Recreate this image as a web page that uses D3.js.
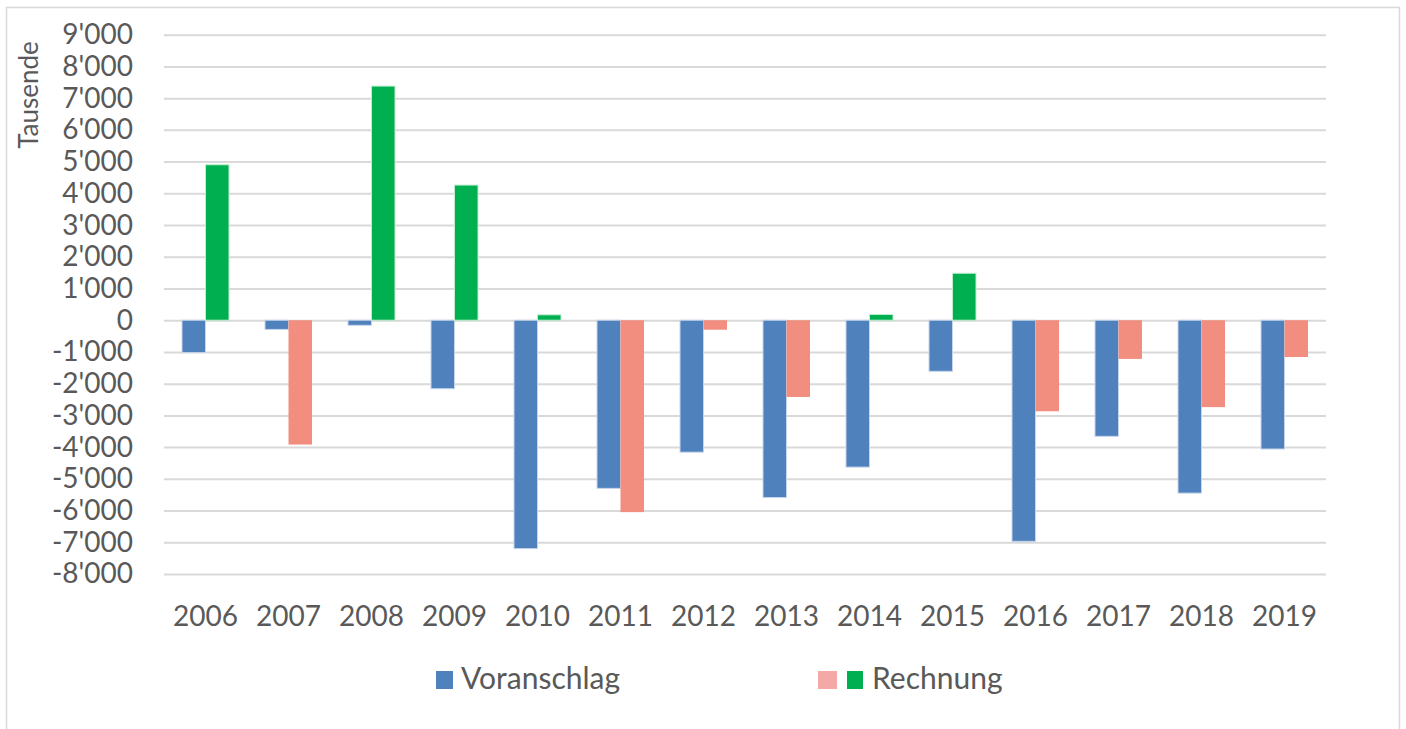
<!DOCTYPE html>
<html>
<head>
<meta charset="utf-8">
<script src="https://cdn.jsdelivr.net/npm/d3@7"></script>
<style>
  html, body { margin: 0; padding: 0; background: #fff; }
  svg { display: block; }
  text { font-family: Lato, "Open Sans", sans-serif; fill: #595959; }
</style>
</head>
<body>
<svg id="chart" width="1406" height="729"></svg>
<script>
const years = ["2006","2007","2008","2009","2010","2011","2012","2013","2014","2015","2016","2017","2018","2019"];
const voranschlag = [-1020, -290, -160, -2160, -7200, -5300, -4160, -5590, -4630, -1610, -6970, -3660, -5450, -4060];
const rechnung = [4900, -3920, 7380, 4260, 170, -6050, -300, -2420, 180, 1480, -2870, -1220, -2740, -1160];
const yTicks = [9000, 8000, 7000, 6000, 5000, 4000, 3000, 2000, 1000, 0, -1000, -2000, -3000, -4000, -5000, -6000, -7000, -8000];
const seriesNames = ["Voranschlag", "Rechnung"];
const axisTitle = "Tausende";

(function () {
const colBlue = "#4f81bd", colGreen = "#00b050", colPink = "#f28e80", colPinkLegend = "#f4a9a6";

const svg = d3.select("#chart");
const pL = 164, pR = 1326, pT = 34.7, pB = 574;

// chart border
svg.append("rect").attr("x", 6.5).attr("y", 7.5).attr("width", 1393).attr("height", 740)
  .attr("fill", "none").attr("stroke", "#d9d9d9").attr("stroke-width", 1.5);

const x = d3.scaleBand().domain(years).range([pL, pR]).paddingInner(0.434).paddingOuter(0.217);
const xs = d3.scaleBand().domain(seriesNames).range([0, x.bandwidth()]);
const y = d3.scaleLinear().domain([-8000, 9000]).range([pB, pT]);

const loc = d3.formatLocale({decimal: ".", thousands: "'", grouping: [3], currency: ["", ""], minus: "-"});
const fmt = loc.format(",d");

// gridlines
const grid = svg.append("g").attr("transform", `translate(${pL},0)`)
  .call(d3.axisLeft(y).tickValues(yTicks).tickSize(-(pR - pL)).tickFormat(""));
grid.select(".domain").remove();
grid.selectAll("line").attr("stroke", "#d9d9d9").attr("stroke-width", 2);

// y labels
const yAx = svg.append("g").attr("transform", `translate(${pL},0)`)
  .call(d3.axisLeft(y).tickValues(yTicks).tickSize(0).tickPadding(31).tickFormat(fmt));
yAx.select(".domain").remove();
yAx.selectAll("text").attr("font-size", 28).attr("fill", "#595959")
  .style("font-family", "Lato, 'Open Sans', sans-serif");

// bars
const gBars = svg.append("g");
years.forEach((yr, i) => {
  const v = voranschlag[i], r = rechnung[i];
  gBars.append("rect")
    .attr("x", x(yr) + xs("Voranschlag"))
    .attr("width", xs.bandwidth())
    .attr("y", y(Math.max(0, v)))
    .attr("height", Math.abs(y(v) - y(0)))
    .attr("fill", colBlue).attr("stroke", "#c6d5ea").attr("stroke-width", 1);
  gBars.append("rect")
    .attr("x", x(yr) + xs("Rechnung"))
    .attr("width", xs.bandwidth())
    .attr("y", y(Math.max(0, r)))
    .attr("height", Math.abs(y(r) - y(0)))
    .attr("fill", r >= 0 ? colGreen : colPink).attr("stroke", r >= 0 ? "#bfeccf" : "none").attr("stroke-width", 1);
});

// x labels
const xAx = svg.append("g").attr("transform", `translate(0,${pB})`)
  .call(d3.axisBottom(x).tickSize(0).tickPadding(0));
xAx.select(".domain").remove();
xAx.selectAll("text").attr("y", 52).attr("dy", 0).attr("font-size", 28).attr("fill", "#595959")
  .style("font-family", "Lato, 'Open Sans', sans-serif");

// axis title
svg.append("text").attr("transform", "translate(38,95) rotate(-90)")
  .attr("text-anchor", "middle").attr("font-size", 26).text(axisTitle);

// legend
const lg = svg.append("g");
lg.append("rect").attr("x", 436).attr("y", 671).attr("width", 17).attr("height", 18).attr("fill", colBlue);
lg.append("text").attr("x", 461).attr("y", 689).attr("font-size", 30).text(seriesNames[0]);
lg.append("rect").attr("x", 818).attr("y", 671).attr("width", 19).attr("height", 18).attr("fill", colPinkLegend);
lg.append("rect").attr("x", 847).attr("y", 671).attr("width", 16).attr("height", 18).attr("fill", colGreen);
lg.append("text").attr("x", 872).attr("y", 689).attr("font-size", 30).text(seriesNames[1]);
})();
</script>
</body>
</html>
